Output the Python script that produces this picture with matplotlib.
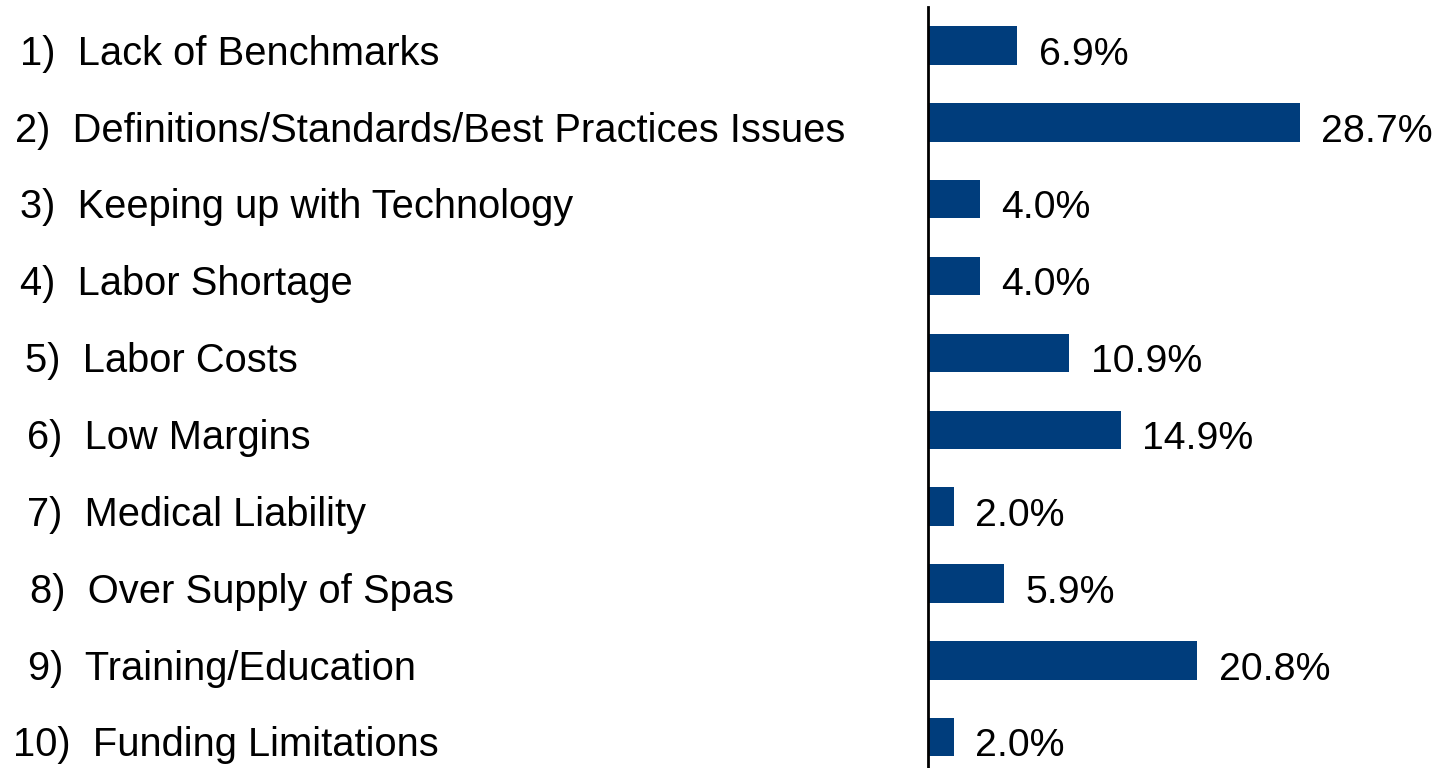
import matplotlib
matplotlib.use("Agg")
import matplotlib.pyplot as plt
from matplotlib.transforms import blended_transform_factory

categories = [
    "1)  Lack of Benchmarks",
    "2)  Definitions/Standards/Best Practices Issues",
    "3)  Keeping up with Technology",
    "4)  Labor Shortage",
    "5)  Labor Costs",
    "6)  Low Margins",
    "7)  Medical Liability",
    "8)  Over Supply of Spas",
    "9)  Training/Education",
    "10)  Funding Limitations",
]
values = [6.9, 28.7, 4.0, 4.0, 10.9, 14.9, 2.0, 5.9, 20.8, 2.0]
value_labels = ["6.9%", "28.7%", "4.0%", "4.0%", "10.9%", "14.9%", "2.0%", "5.9%", "20.8%", "2.0%"]

# layout only: left indent (pixels) of each category label
label_indent_px = [20, 15, 20, 20, 25, 27, 27, 30, 28, 13]

plt.rcParams['font.family'] = ['Liberation Sans', 'DejaVu Sans']

W, H = 1441, 768
fig = plt.figure(figsize=(W / 100, H / 100), dpi=100)
ax = fig.add_axes([928 / W, 0, (W - 928) / W, (H - 7) / H])

bar_color = "#003D7C"
ypos = list(range(len(values)))
ax.barh(ypos, values, height=0.5, color=bar_color, left=0)
ax.set_ylim(9.4, -0.5)
ax.set_xlim(0, 39.6)

FS = 28.7
BASE = 0.25
for y, v, lab in zip(ypos, values, value_labels):
    ax.text(v + 1.65, y + BASE, lab, va='baseline', ha='left', fontsize=28.3, color='black')

trans = blended_transform_factory(fig.transFigure, ax.transData)
for y, cat, ind in zip(ypos, categories, label_indent_px):
    ax.text(ind / W, y + BASE, cat, transform=trans, va='baseline', ha='left',
            fontsize=FS, color='black', clip_on=False)

for s in ['top', 'right', 'bottom']:
    ax.spines[s].set_visible(False)
ax.spines['left'].set_linewidth(2)
ax.spines['left'].set_color('black')
ax.set_xticks([])
ax.set_yticks([])

fig.savefig("out.png", dpi=100, facecolor='white')
